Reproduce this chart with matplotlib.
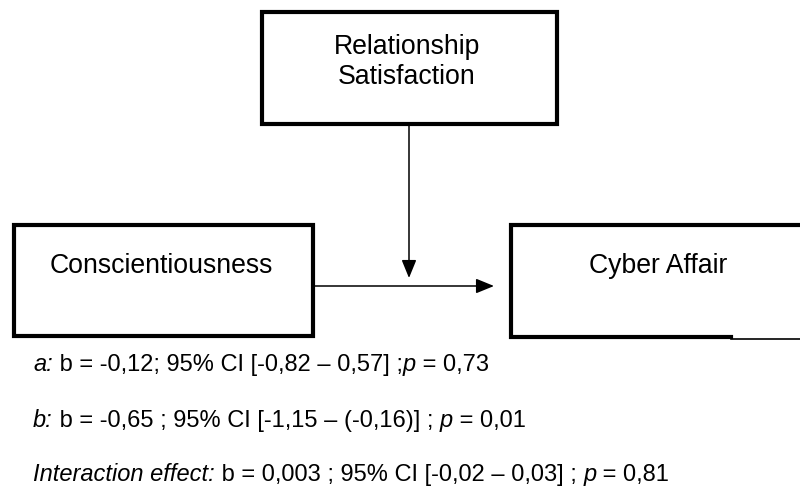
import matplotlib.pyplot as plt
from matplotlib.patches import Rectangle

plt.rcParams["font.family"] = ["Liberation Sans", "DejaVu Sans"]

moderator_label = "Relationship\nSatisfaction"
predictor_label = "Conscientiousness"
outcome_label = "Cyber Affair"

# each stats line: italic path name, plain stats, italic p, plain p value
path_names = ["a:", "b:", "Interaction effect:"]
path_stats = [
    " b = -0,12; 95% CI [-0,82 \u2013 0,57] ;",
    " b = -0,65 ; 95% CI [-1,15 \u2013 (-0,16)] ; ",
    " b = 0,003 ; 95% CI [-0,02 \u2013 0,03] ; ",
]
p_values = ["0,73", "0,01", "0,81"]

W, H = 800, 489
fig = plt.figure(figsize=(W / 100, H / 100), dpi=100)
ax = fig.add_axes([0, 0, 1, 1])
ax.set_xlim(0, W)
ax.set_ylim(H, 0)
ax.axis("off")

box_lw = 3.0


def box(x0, y0, x1, y1):
    ax.add_patch(Rectangle((x0, y0), x1 - x0, y1 - y0, fill=False,
                           edgecolor="black", linewidth=box_lw, clip_on=False))


box(261.5, 12.5, 556.5, 124.5)
box(13.5, 225.5, 312.5, 336.5)

# outcome box runs off the right edge; its bottom edge thins out near the end
ax.plot([830, 510.5, 510.5, 731], [225.5, 225.5, 338.0, 338.0], color="black",
        lw=box_lw, solid_joinstyle="miter", solid_capstyle="projecting")
ax.plot([731, 800], [339.5, 339.5], color="black", lw=1.2)

ax.text(407, 62, moderator_label, ha="center", va="center", fontsize=19.2,
        linespacing=1.25)
ax.text(161, 266, predictor_label, ha="center", va="center", fontsize=19.2)
ax.text(658, 266, outcome_label, ha="center", va="center", fontsize=19.2)

arrow = dict(arrowstyle="-|>,head_length=1.1,head_width=0.45", color="black",
             lw=1.1, shrinkA=0, shrinkB=0)
ax.annotate("", xy=(494, 287), xytext=(314, 287), arrowprops=arrow)
ax.annotate("", xy=(409, 279), xytext=(409, 126), arrowprops=arrow)

fig.canvas.draw()
renderer = fig.canvas.get_renderer()
inv = ax.transData.inverted()

line_y = [371, 427, 481]
for name, stat, pv, y in zip(path_names, path_stats, p_values, line_y):
    x = 33
    pieces = [(name, "italic"), (stat, "normal"), ("p", "italic"), (" = " + pv, "normal")]
    for txt, style in pieces:
        t = ax.text(x, y, txt, ha="left", va="baseline", fontsize=17, style=style)
        bb = t.get_window_extent(renderer)
        x = inv.transform((bb.x1, bb.y0))[0]

fig.savefig("out.png", dpi=100)
